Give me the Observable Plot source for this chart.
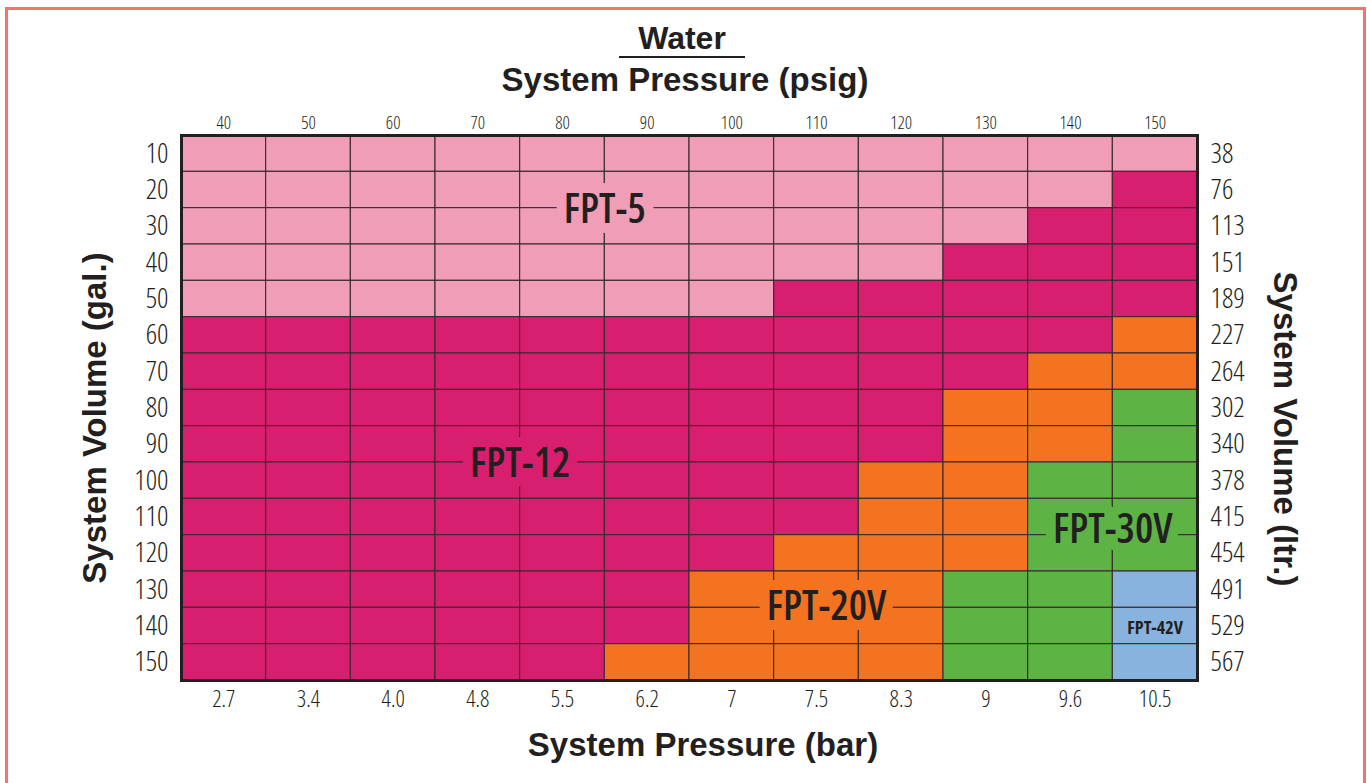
<!DOCTYPE html>
<html>
<head>
<meta charset="utf-8">
<script src="https://cdn.jsdelivr.net/npm/d3@7"></script>
<script src="https://cdn.jsdelivr.net/npm/@observablehq/plot@0.6"></script>
<style>
  html, body { margin: 0; padding: 0; background: #fff; }
  #page { position: relative; width: 1367px; height: 783px; overflow: hidden; background: #fff; }
  #border { position: absolute; left: 5px; top: 7px; width: 1355px; height: 800px; border: 3px solid #F2746A; pointer-events: none; }
  .title { position: absolute; font-family: "Liberation Sans", Arial, sans-serif; font-weight: bold; color: #231f20; white-space: nowrap; }
  #water { left: 619px; width: 126px; top: 21px; text-align: center; font-size: 32px; line-height: 35px; border-bottom: 2px solid #231f20; }
  #psig { left: 0; width: 1370px; top: 62px; text-align: center; font-size: 33px; line-height: 36px; }
  #bar { left: 0; width: 1406px; top: 727px; text-align: center; font-size: 33px; line-height: 36px; }
  #gal { left: 95px; top: 418px; font-size: 33px; line-height: 34px; transform: translate(-50%, -50%) rotate(-90deg); }
  #ltr { left: 1285px; top: 429px; font-size: 33px; line-height: 34px; transform: translate(-50%, -50%) rotate(90deg); }
  #chart { position: absolute; left: 0; top: 0; }
  #chart svg text { font-stretch: 75%; }
</style>
</head>
<body>
<div id="page">
  <div id="chart"></div>
  <div class="title" id="water">Water</div>
  <div class="title" id="psig">System Pressure (psig)</div>
  <div class="title" id="bar">System Pressure (bar)</div>
  <div class="title" id="gal">System Volume (gal.)</div>
  <div class="title" id="ltr">System Volume (ltr.)</div>
  <div id="border"></div>
</div>
<script>
// ---- data ----
const psig = [40, 50, 60, 70, 80, 90, 100, 110, 120, 130, 140, 150];
const bar = ["2.7", "3.4", "4.0", "4.8", "5.5", "6.2", "7", "7.5", "8.3", "9", "9.6", "10.5"];
const gal = [10, 20, 30, 40, 50, 60, 70, 80, 90, 100, 110, 120, 130, 140, 150];
const ltr = [38, 76, 113, 151, 189, 227, 264, 302, 340, 378, 415, 454, 491, 529, 567];
const models = ["FPT-5", "FPT-12", "FPT-20V", "FPT-30V", "FPT-42V"];
const modelColors = ["#F09EB7", "#D81E6E", "#F47321", "#5DB445", "#87B3DE"];
// model index per (gallons row, psig column)
const grid = [
  "000000000000", // 10
  "000000000001", // 20
  "000000000011", // 30
  "000000000111", // 40
  "000000011111", // 50
  "111111111112", // 60
  "111111111122", // 70
  "111111111223", // 80
  "111111111223", // 90
  "111111112233", // 100
  "111111112233", // 110
  "111111122233", // 120
  "111111222334", // 130
  "111111222334", // 140
  "111112222334"  // 150
];
// label placement in grid units (column index, row index)
const labelModel = ["FPT-5", "FPT-12", "FPT-20V", "FPT-30V", "FPT-42V"];
const labelCol = [5, 4, 7.62, 11, 11.5];
const labelRow = [2.05, 9.05, 12.98, 10.85, 13.55];
const labelSize = [41, 41, 41, 41, 18];

// ---- build tables ----
const cells = [];
grid.forEach((row, r) => {
  row.split("").forEach((m, c) => {
    cells.push({row: r, col: c, model: models[+m], color: modelColors[+m]});
  });
});
const labels = labelModel.map((m, i) => ({
  text: m, col: labelCol[i], row: labelRow[i], size: labelSize[i],
  color: modelColors[models.indexOf(m)]
}));
const colCenters = psig.map((_, i) => i + 0.5);
const rowCenters = gal.map((_, i) => i + 0.5);

const narrow = "'Open Sans', 'DejaVu Sans Condensed', sans-serif";

const bigLabels = labels.filter(d => d.size > 20);
const smallLabels = labels.filter(d => d.size <= 20);

const chart = Plot.plot({
  width: 1367,
  height: 783,
  marginTop: 135,
  marginBottom: 103,
  marginLeft: 181,
  marginRight: 170,
  style: {background: "transparent", overflow: "visible"},
  x: {domain: [0, 12], axis: null},
  y: {domain: [0, 15], reverse: true, axis: null},
  marks: [
    Plot.rect(cells, {
      x1: "col", x2: d => d.col + 1, y1: "row", y2: d => d.row + 1,
      fill: "color", stroke: "#3b2a30", strokeWidth: 1.1
    }),
    Plot.text(bigLabels, {
      x: "col", y: "row", text: "text",
      fill: "#231f20", stroke: "color", strokeWidth: 20,
      strokeLinejoin: "round", paintOrder: "stroke",
      fontSize: 41, fontWeight: 600, fontFamily: narrow
    }),
    Plot.text(smallLabels, {
      x: "col", y: "row", text: "text",
      fill: "#231f20", fontSize: 18, fontWeight: 700, fontFamily: narrow
    }),
    Plot.frame({stroke: "#231f20", strokeWidth: 3}),
    Plot.axisX(colCenters, {
      anchor: "top", ticks: colCenters, tickSize: 0, tickPadding: 7,
      tickFormat: v => psig[Math.floor(v)], label: null,
      fontSize: 18, fontWeight: 300, fontFamily: narrow, fill: "#231f20"
    }),
    Plot.axisX(colCenters, {
      anchor: "bottom", ticks: colCenters, tickSize: 0, tickPadding: 10,
      tickFormat: v => bar[Math.floor(v)], label: null,
      fontSize: 23, fontWeight: 300, fontFamily: narrow, fill: "#231f20"
    }),
    Plot.axisY(rowCenters, {
      anchor: "left", ticks: rowCenters, tickSize: 0, tickPadding: 13,
      tickFormat: v => gal[Math.floor(v)], label: null,
      fontSize: 28, fontWeight: 300, fontFamily: narrow, fill: "#231f20"
    }),
    Plot.axisY(rowCenters, {
      anchor: "right", ticks: rowCenters, tickSize: 0, tickPadding: 13,
      tickFormat: v => ltr[Math.floor(v)], label: null,
      fontSize: 28, fontWeight: 300, fontFamily: narrow, fill: "#231f20"
    })
  ]
});
document.getElementById("chart").appendChild(chart);
</script>
</body>
</html>
